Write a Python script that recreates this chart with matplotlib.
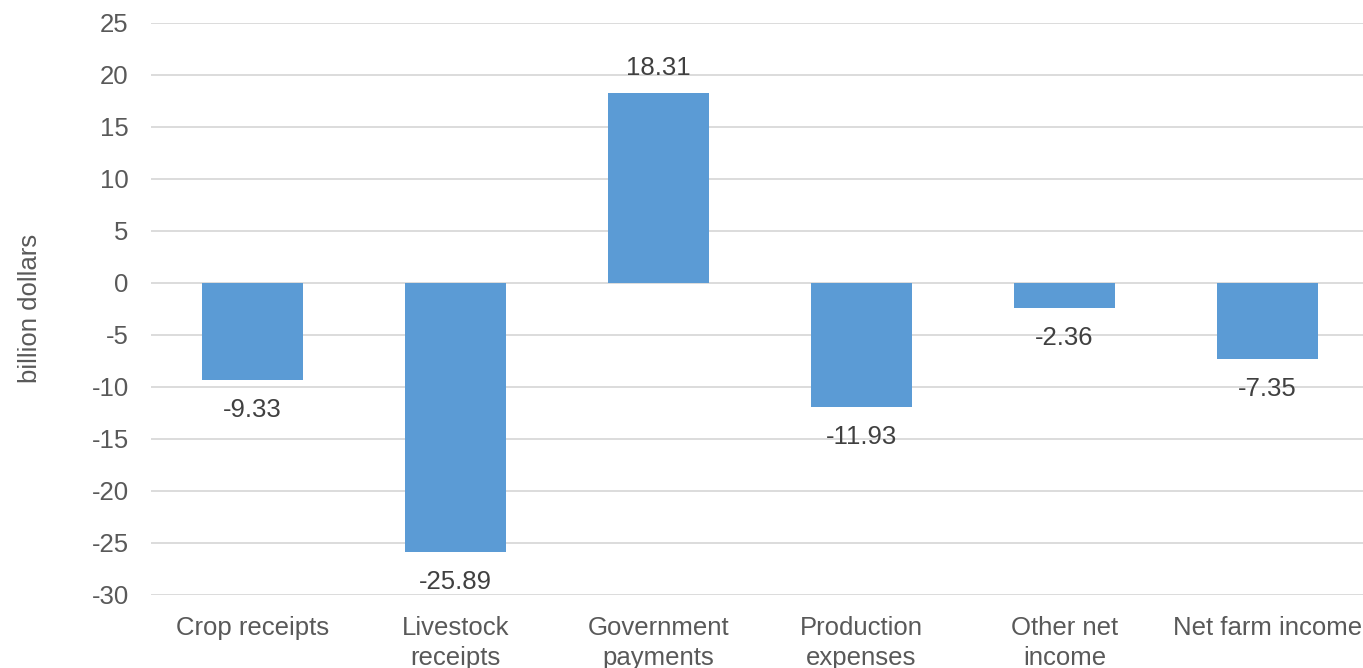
import matplotlib.pyplot as plt
from matplotlib.ticker import FuncFormatter

plt.rcParams['font.family'] = ['Liberation Sans', 'DejaVu Sans']

categories = ['Crop receipts', 'Livestock\nreceipts', 'Government\npayments',
              'Production\nexpenses', 'Other net\nincome', 'Net farm income']
changes = [-9.33, -25.89, 18.31, -11.93, -2.36, -7.35]
yticks = list(range(-30, 30, 5))

fig = plt.figure(figsize=(13.63, 6.68), dpi=100)
ax = fig.add_axes([151 / 1363, 73 / 668, 1218 / 1363, 572 / 668])

x = range(len(categories))
bars = ax.bar(x, changes, width=0.5, color='#5B9BD5', zorder=3)

fs = 18.5
for b, v in zip(bars, changes):
    cx = b.get_x() + b.get_width() / 2
    if v >= 0:
        ax.annotate(f'{v:.2f}', (cx, v), xytext=(0, 9), textcoords='offset points',
                    ha='center', va='bottom', fontsize=fs, color='#404040')
    else:
        ax.annotate(f'{v:.2f}', (cx, v), xytext=(0, -13), textcoords='offset points',
                    ha='center', va='top', fontsize=fs, color='#404040')

ax.set_xlim(-0.5, len(categories) - 0.5)
ax.set_ylim(-30, 25)
ax.set_yticks(yticks)
ax.yaxis.set_major_formatter(FuncFormatter(lambda v, p: f'{v:.0f}'))
ax.set_xticks(list(x))
ax.set_xticklabels(categories, fontsize=fs, color='#595959', linespacing=1.3)
ax.tick_params(axis='y', labelsize=fs, labelcolor='#595959', length=0, pad=16)
ax.tick_params(axis='x', length=0, pad=15)
ax.grid(axis='y', color='#d9d9d9', linewidth=1.3, zorder=0)
for s in ax.spines.values():
    s.set_visible(False)

fig.text(30 / 1363, 1 - 308 / 668, 'billion dollars', rotation=90, ha='center', va='center',
         fontsize=fs, color='#595959')

fig.savefig('out.png', dpi=100)
